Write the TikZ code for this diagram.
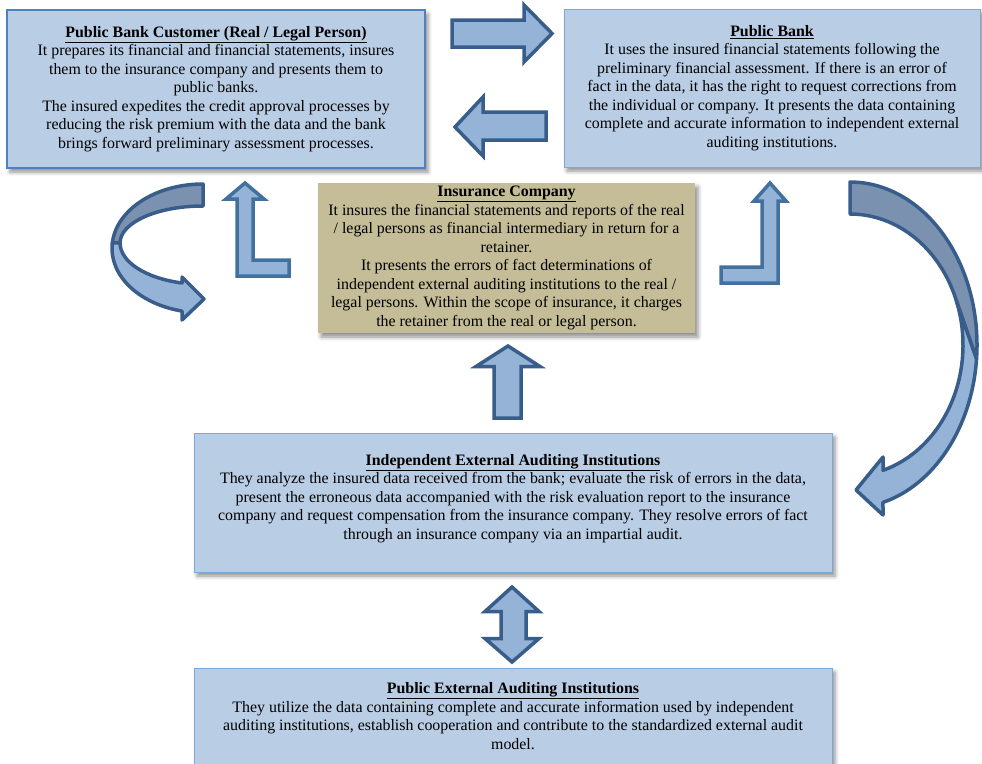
\documentclass[tikz,border=0pt]{standalone}
\usepackage{fontspec}
\setmainfont{Liberation Serif}
\usetikzlibrary{shadows.blur,calc}
\definecolor{boxblue}{HTML}{B9CDE5}
\definecolor{boxedgeA}{HTML}{4F81BD}
\definecolor{boxedgeB}{HTML}{7FA8DA}
\definecolor{tanbox}{HTML}{C4BD97}
\definecolor{arrowfill}{HTML}{95B3D7}
\definecolor{arrowline}{HTML}{385D8A}
\definecolor{arrowlineL}{HTML}{41719C}
\definecolor{arrowdark}{HTML}{7A92B0}
\newcommand\boxtitle[1]{\textbf{\underline{#1}}}
\begin{document}
\begin{tikzpicture}[x=1pt,y=1pt,
  boxbase/.style={inner sep=0pt, outer sep=0pt, align=center,
    font=\fontsize{15.9}{18.5}\selectfont,
    blur shadow={shadow xshift=3pt, shadow yshift=-4pt, shadow blur radius=4pt, shadow opacity=45}},
  bluebox/.style={boxbase, draw=boxedgeB, line width=1pt, fill=boxblue},
  blockarrow/.style={draw=arrowline, line width=3.5pt, fill=arrowfill, line join=miter},
  bentarrow/.style={draw=arrowlineL, line width=3.5pt, fill=arrowfill, line join=miter},
  curvearrow/.style={draw=arrowline, line width=3.5pt, line join=round}]
\path[use as bounding box] (0,0) rectangle (982,-763);
\clip (0,0) rectangle (982,-763);

% boxes
\node[bluebox, draw=boxedgeA, line width=2pt, minimum width=418pt, minimum height=158pt] (cust) at (216,-89) {%
\boxtitle{Public Bank Customer (Real / Legal Person)}\\
It prepares its financial and financial statements, insures\\
them to the insurance company and presents them to\\
public banks.\\
The insured expedites the credit approval processes by\\
reducing the risk premium with the data and the bank\\
brings forward preliminary assessment processes.};

\node[bluebox, minimum width=416pt, minimum height=158pt] (bank) at (772,-88) {%
\boxtitle{Public Bank}\\
It uses the insured financial statements following the\\
preliminary financial assessment. If there is an error of\\
fact in the data, it has the right to request corrections from\\
the individual or company. It presents the data containing\\
complete and accurate information to independent external\\
auditing institutions.};

\node[boxbase, fill=tanbox, minimum width=377pt, minimum height=150pt] (ins) at (506.5,-258) {%
\boxtitle{Insurance Company}\\
It insures the financial statements and reports of the real\\
/ legal persons as financial intermediary in return for a\\
retainer.\\
It presents the errors of fact determinations of\\
independent external auditing institutions to the real /\\
legal persons. Within the scope of insurance, it charges\\
the retainer from the real or legal person.};

\node[bluebox, minimum width=638pt, minimum height=139pt] (indep) at (513,-502.5) {%
\boxtitle{Independent External Auditing Institutions}\\
They analyze the insured data received from the bank; evaluate the risk of errors in the data,\\
present the erroneous data accompanied with the risk evaluation report to the insurance\\
company and request compensation from the insurance company. They resolve errors of fact\\
through an insurance company via an impartial audit.\rule[-12pt]{0pt}{0pt}};

\node[bluebox, minimum width=638pt, minimum height=102pt] (pub) at (513,-719) {%
\boxtitle{Public External Auditing Institutions}\\
They utilize the data containing complete and accurate information used by independent\\
auditing institutions, establish cooperation and contribute to the standardized external audit\\
model.\rule[-6pt]{0pt}{0pt}};

% straight block arrows
\draw[blockarrow] (452,-20) -- (524,-20) -- (524,-5) -- (552,-33.5) -- (524,-62) -- (524,-47) -- (452,-47) -- cycle;
\draw[blockarrow] (546,-112) -- (483,-112) -- (483,-97) -- (455,-127) -- (483,-156) -- (483,-140) -- (546,-140) -- cycle;
\draw[blockarrow] (494,-418) -- (494,-366.5) -- (476,-366.5) -- (508,-346) -- (540,-366.5) -- (521,-366.5) -- (521,-418) -- cycle;
\draw[blockarrow] (512,-587) -- (539,-611.5) -- (526,-611.5) -- (526,-638.5) -- (539,-638.5) -- (512,-662) -- (485,-638.5) -- (501,-638.5) -- (501,-611.5) -- (485,-611.5) -- cycle;

% bent-up arrows
\draw[bentarrow] (237,-276) -- (289,-276) -- (289,-260) -- (253,-260) -- (253,-199) -- (264,-199) -- (245,-183) -- (226,-199) -- (237,-199) -- cycle;
\draw[bentarrow] (778,-283) -- (721,-283) -- (721,-267) -- (762,-267) -- (762,-201) -- (754,-201) -- (770,-183) -- (786,-201) -- (778,-201) -- cycle;

% left curved arrow
\draw[curvearrow, fill=arrowdark] (203,-184) arc[start angle=90, end angle=175, x radius=91pt, y radius=64.4pt] -- (120,-243) arc[start angle=180, end angle=90, x radius=83pt, y radius=37pt] -- cycle;
\draw[curvearrow, fill=arrowfill] (112.35,-242.8) arc[start angle=175, end angle=256.66, x radius=91pt, y radius=64.4pt] -- (182,-320) -- (204,-299) -- (182,-277) -- (182,-283) arc[start angle=255.3, end angle=180, x radius=83pt, y radius=41.4pt] -- cycle;

% right curved arrow
\draw[curvearrow, fill=arrowdark] (850,-182) arc[start angle=90, end angle=-5, x radius=127pt, y radius=163pt] -- (956.2,-300.2) arc[start angle=20, end angle=90, x radius=113pt, y radius=131pt] -- cycle;
\draw[curvearrow, fill=arrowfill] (976.5,-359.2) arc[start angle=-5, end angle=-74.94, x radius=127pt, y radius=163pt] -- (883,-515) -- (856,-490) -- (883,-457) -- (883,-470.3) arc[start angle=-73.02, end angle=20, x radius=113pt, y radius=131pt] -- cycle;
\end{tikzpicture}
\end{document}
